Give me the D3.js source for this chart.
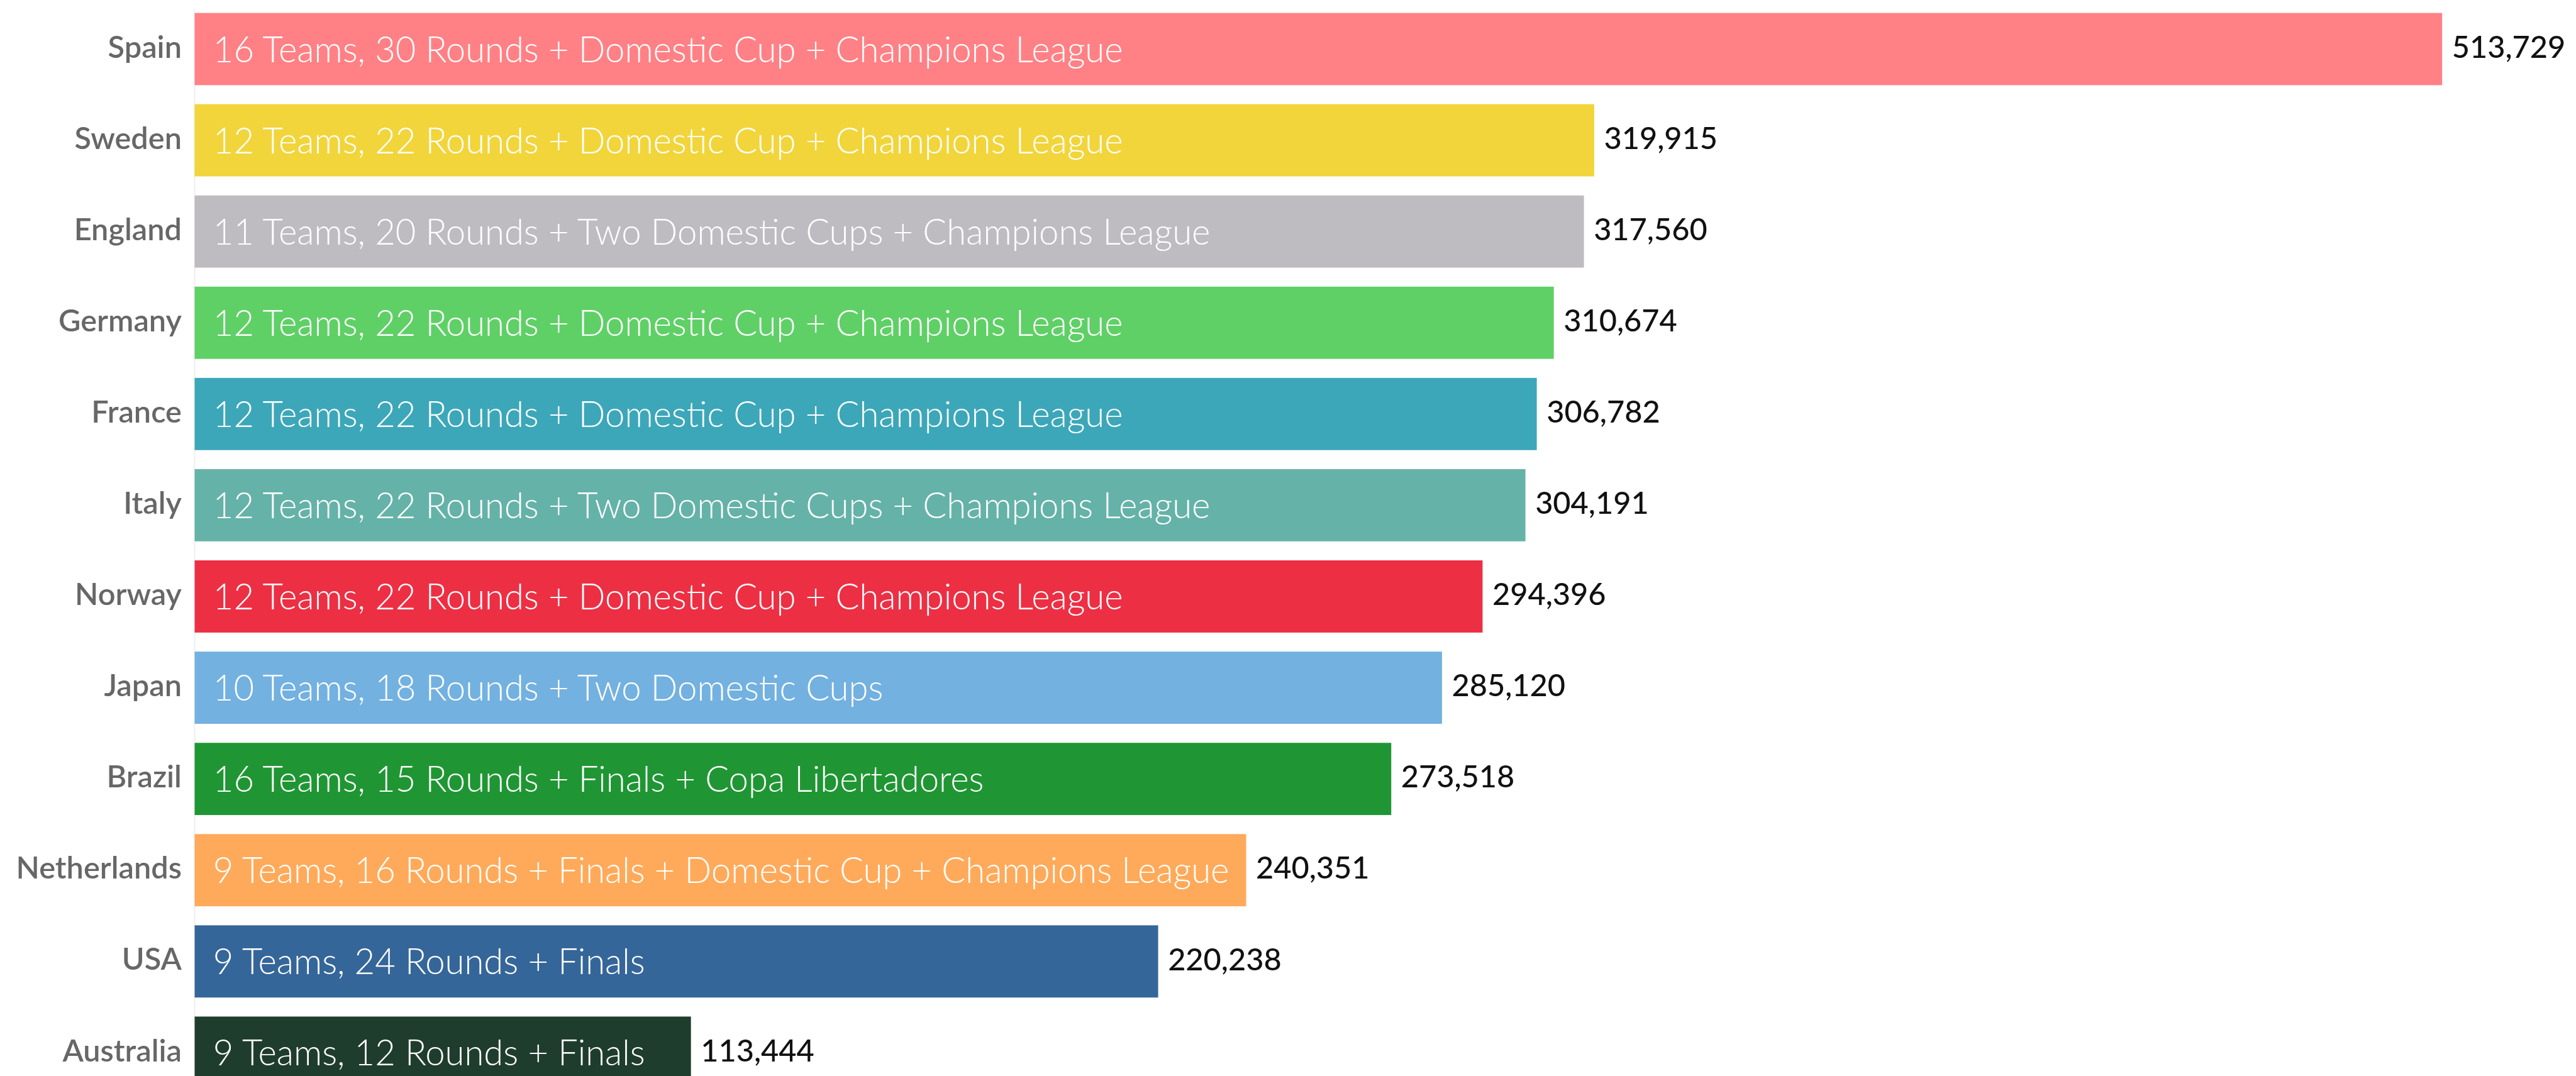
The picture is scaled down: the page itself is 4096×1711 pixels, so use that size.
<!DOCTYPE html>
<html>
<head>
<meta charset="utf-8">
<script src="https://cdn.jsdelivr.net/npm/d3@7"></script>
<style>
  html, body { margin: 0; padding: 0; background: #ffffff; overflow: hidden; }
  svg { display: block; }
</style>
</head>
<body>
<script>
// League formats and the number of kilometres travelled per country
const countries = ["Spain", "Sweden", "England", "Germany", "France", "Italy", "Norway", "Japan", "Brazil", "Netherlands", "USA", "Australia"];
const distances = [513729, 319915, 317560, 310674, 306782, 304191, 294396, 285120, 273518, 240351, 220238, 113444];
const formats = [
  "16 Teams, 30 Rounds + Domestic Cup + Champions League",
  "12 Teams, 22 Rounds + Domestic Cup + Champions League",
  "11 Teams, 20 Rounds + Two Domestic Cups + Champions League",
  "12 Teams, 22 Rounds + Domestic Cup + Champions League",
  "12 Teams, 22 Rounds + Domestic Cup + Champions League",
  "12 Teams, 22 Rounds + Two Domestic Cups + Champions League",
  "12 Teams, 22 Rounds + Domestic Cup + Champions League",
  "10 Teams, 18 Rounds + Two Domestic Cups",
  "16 Teams, 15 Rounds + Finals + Copa Libertadores",
  "9 Teams, 16 Rounds + Finals + Domestic Cup + Champions League",
  "9 Teams, 24 Rounds + Finals",
  "9 Teams, 12 Rounds + Finals"
];
const colors = ["#ff8185", "#f1d53b", "#bebcc0", "#5fd066", "#3ca7b9", "#65b2a8", "#ed2f44", "#73b1e0", "#1f9633", "#ffaa5a", "#356699", "#1f3d2d"];

const rows = countries.map((c, i) => ({ country: c, value: distances[i], format: formats[i], color: colors[i] }));

const W = 4096, H = 1711, k = 0.624;
const left = 496 * k;

const svg = d3.select("body").append("svg")
  .attr("width", W).attr("height", H);

const x = d3.scaleLinear()
  .domain([0, d3.max(distances)])
  .range([left, 6223 * k]);

const y = d3.scaleBand()
  .domain(countries)
  .range([8.75 * k, 2798.75 * k])
  .paddingInner(0.2086)
  .paddingOuter(0.1043);

// faint baseline on the left of the bars
svg.append("line")
  .attr("x1", left).attr("x2", left)
  .attr("y1", 23 * k).attr("y2", H)
  .attr("stroke", "#eeeeee").attr("stroke-width", 2);

// country axis
const yAxis = svg.append("g")
  .attr("transform", `translate(${left},0)`)
  .call(d3.axisLeft(y).tickSize(0).tickPadding(33 * k));
yAxis.select(".domain").remove();
yAxis.selectAll("text")
  .attr("font-family", "Lato, 'Open Sans', sans-serif")
  .attr("font-size", 78 * k)
  .attr("font-weight", 600)
  .attr("fill", "#676767")
  .attr("dy", "0.28em");

const g = svg.append("g");

g.selectAll("rect.bar").data(rows).join("rect")
  .attr("class", "bar")
  .attr("x", x(0))
  .attr("y", d => y(d.country))
  .attr("width", d => x(d.value) - x(0))
  .attr("height", y.bandwidth())
  .attr("fill", d => d.color);

// format description inside each bar
g.selectAll("text.format").data(rows).join("text")
  .attr("class", "format")
  .attr("x", x(0) + 47 * k)
  .attr("y", d => y(d.country) + 125 * k)
  .attr("font-family", "Lato, 'Open Sans', sans-serif")
  .attr("font-size", 90 * k)
  .attr("font-weight", 300)
  .attr("fill", "#ffffff")
  .text(d => d.format);

// value label at the end of each bar
const fmt = d3.format(",");
g.selectAll("text.value").data(rows).join("text")
  .attr("class", "value")
  .attr("x", d => x(d.value) + 25 * k)
  .attr("y", d => y(d.country) + 114 * k)
  .attr("font-family", "Lato, 'Open Sans', sans-serif")
  .attr("font-size", 78 * k)
  .attr("font-weight", 500)
  .attr("fill", "#111111")
  .text(d => fmt(d.value));
</script>
</body>
</html>
